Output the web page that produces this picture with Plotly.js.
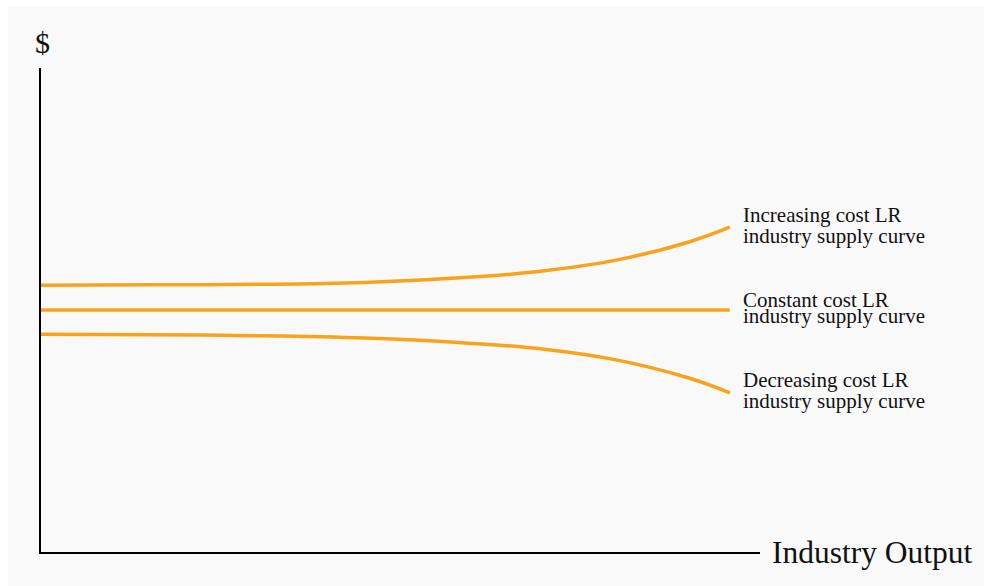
<!DOCTYPE html>
<html>
<head>
<meta charset="utf-8">
<script src="https://cdn.plot.ly/plotly-3.0.1.min.js"></script>
<style>
  html, body { margin: 0; padding: 0; background: #ffffff; }
  #chart { position: absolute; left: 8px; top: 6px; width: 976px; height: 580px; }
</style>
</head>
<body>
<div id="chart"></div>
<script>
// output levels (x) at which the curves were read
const outputX = [0, 1.5, 3, 4.5, 6, 7, 8, 9, 9.58];
// long-run price for each industry type
const increasingCost = [5.51, 5.52, 5.53, 5.57, 5.68, 5.81, 6.03, 6.40, 6.71];
const constantCost   = [5.0, 5.0, 5.0, 5.0, 5.0, 5.0, 5.0, 5.0, 5.0];
const decreasingCost = [4.50, 4.49, 4.47, 4.42, 4.31, 4.19, 3.97, 3.60, 3.29];

const curveNames = ['Increasing cost LR industry supply curve',
                    'Constant cost LR industry supply curve',
                    'Decreasing cost LR industry supply curve'];
const labelLines = [
    ['Increasing cost LR', 'industry supply curve'],
    ['Constant cost LR', 'industry supply curve'],
    ['Decreasing cost LR', 'industry supply curve']
];
const yAxisLabel = '$';
const xAxisLabel = 'Industry Output';

const orange = '#f8a31b';
const serif = '"Liberation Serif", "Times New Roman", serif';

const traces = [increasingCost, constantCost, decreasingCost].map((ys, i) => ({
    x: outputX,
    y: ys,
    type: 'scatter',
    mode: 'lines',
    name: curveNames[i],
    line: { color: orange, width: 3.5, shape: 'spline', smoothing: 1.1 },
    hoverinfo: 'skip'
}));

// where each two-line label sits (data units)
const labelY = [[6.97, 6.52], [5.21, 4.87], [3.55, 3.11]];
const annotations = [];
labelLines.forEach((lines, i) => {
    lines.forEach((txt, j) => {
        annotations.push({
            x: 9.735, y: labelY[i][j], xref: 'x', yref: 'y',
            text: txt, showarrow: false,
            xanchor: 'left', yanchor: 'middle',
            font: { family: serif, size: 21, color: '#111111' }
        });
    });
});
// axis names sit outside the plotting range, so place them in paper units
annotations.push({
    x: 0.0015, y: 1.052, xref: 'paper', yref: 'paper', text: yAxisLabel, showarrow: false,
    xanchor: 'center', yanchor: 'middle',
    font: { family: serif, size: 30, color: '#111111' }
});
annotations.push({
    x: 1.014, y: 0.0, xref: 'paper', yref: 'paper', text: xAxisLabel, showarrow: false,
    xanchor: 'left', yanchor: 'middle',
    font: { family: serif, size: 31.5, color: '#111111' }
});

const layout = {
    width: 976,
    height: 580,
    paper_bgcolor: '#f9f9f9',
    plot_bgcolor: '#f9f9f9',
    margin: { l: 33, r: 224, t: 62, b: 34 },
    showlegend: false,
    xaxis: {
        range: [0, 10], showgrid: false, zeroline: false, showticklabels: false,
        ticks: '', showline: true, linecolor: '#000000', linewidth: 2, fixedrange: true
    },
    yaxis: {
        range: [0, 10], showgrid: false, zeroline: false, showticklabels: false,
        ticks: '', showline: true, linecolor: '#000000', linewidth: 2, fixedrange: true
    },
    annotations: annotations
};

Plotly.newPlot('chart', traces, layout, { displayModeBar: false, staticPlot: true });
</script>
</body>
</html>
